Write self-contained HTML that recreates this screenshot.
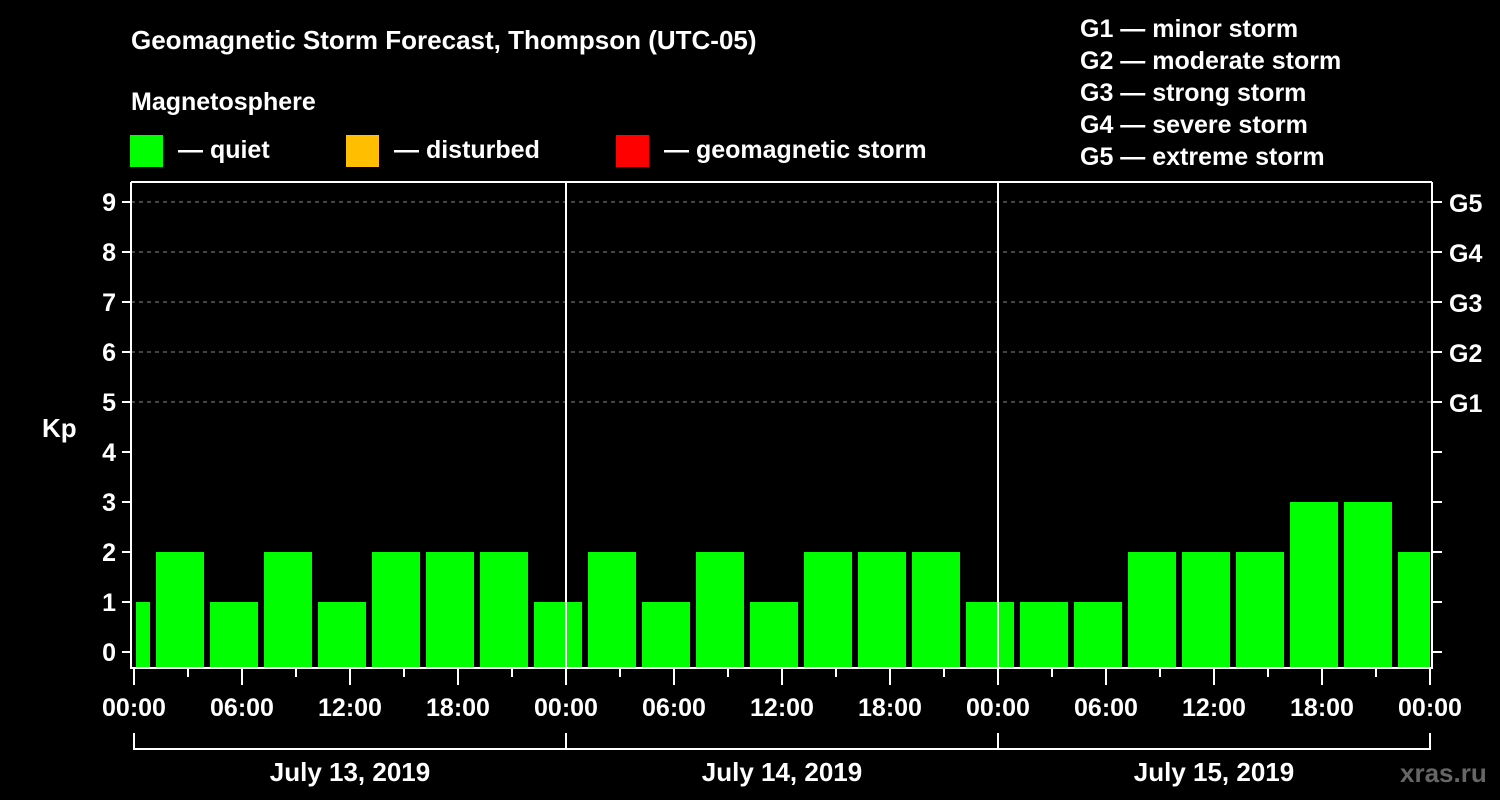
<!DOCTYPE html>
<html><head><meta charset="utf-8"><style>
html,body{margin:0;padding:0;background:#000;width:1500px;height:800px;overflow:hidden}
text{font-family:"Liberation Sans",sans-serif;font-weight:bold;fill:#fff}
</style></head><body>
<svg id="chart" width="1500" height="800" xmlns="http://www.w3.org/2000/svg">
<rect width="1500" height="800" fill="#000"/>
<text x="131" y="49" font-size="26">Geomagnetic Storm Forecast, Thompson (UTC-05)</text>
<text x="131" y="110" font-size="25">Magnetosphere</text>
<rect x="130" y="135" width="33" height="32" fill="#00ff00"/>
<text x="178" y="158" font-size="25">— quiet</text>
<rect x="346" y="135" width="33" height="32" fill="#ffbf00"/>
<text x="394" y="158" font-size="25">— disturbed</text>
<rect x="616" y="135" width="33" height="32" fill="#ff0000"/>
<text x="664" y="158" font-size="25">— geomagnetic storm</text>
<g font-size="25">
<text x="1080" y="37">G1 — minor storm</text>
<text x="1080" y="69">G2 — moderate storm</text>
<text x="1080" y="101">G3 — strong storm</text>
<text x="1080" y="133">G4 — severe storm</text>
<text x="1080" y="165">G5 — extreme storm</text>
</g>
<text x="42" y="437" font-size="26">Kp</text>
<text x="1400" y="782" font-size="26" style="fill:#666">xras.ru</text>
<g id="grid"></g><g id="bars"></g><g id="axes"></g>
</svg>
<script>
const kpValues=[1,2,1,2,1,2,2,2,1,2,1,2,1,2,2,2,1,1,1,2,2,2,3,3,2];
const yTicks=[0,1,2,3,4,5,6,7,8,9];
const gLabels=["","","","","","G1","G2","G3","G4","G5"];
const xTickLabels=["00:00","06:00","12:00","18:00","00:00","06:00","12:00","18:00","00:00","06:00","12:00","18:00","00:00"];
const dayLabels=["July 13, 2019","July 14, 2019","July 15, 2019"];
const NS="http://www.w3.org/2000/svg";
const X0=134,X1=1430,L=131,R=1432,TOP=182,BOT=668;
const hx=h=>X0+(X1-X0)*h/72;
const ky=k=>652-50*k;
function mk(tag,at,parent){const e=document.createElementNS(NS,tag);for(const k in at)e.setAttribute(k,at[k]);parent.appendChild(e);return e;}
const grid=document.getElementById('grid'),bars=document.getElementById('bars'),axes=document.getElementById('axes');
yTicks.forEach((k,i)=>{
 if(k>=5){const g=mk('line',{x1:L,x2:R,y1:ky(k),y2:ky(k),stroke:'#888','stroke-dasharray':'4,4','stroke-width':1},grid);
 
 }
 const t1=mk('line',{x1:122,x2:L,y1:ky(k),y2:ky(k),stroke:'#fff','stroke-width':2},axes);
 
 
 const t2=mk('line',{x1:R,x2:1442,y1:ky(k),y2:ky(k),stroke:'#fff','stroke-width':2},axes);
 
 
 const lb=mk('text',{x:116,y:ky(k)+9,'font-size':25,'text-anchor':'end'},axes);lb.textContent=k;
 
 
 if(gLabels[i]){const gl=mk('text',{x:1449,y:ky(k)+10,'font-size':25},axes);gl.textContent=gLabels[i];
 
 }
});
kpValues.forEach((v,i)=>{
 const c=hx(i*3)-8;let a=Math.max(c-24,X0+2),b=Math.min(c+24,X1);
 const r=mk('rect',{x:a,y:ky(v),width:b-a,height:BOT-ky(v),fill:'#00ff00'},bars);
 
 
});
[[L,TOP,R,TOP],[L,TOP,L,BOT+1],[R,TOP,R,BOT+1],[L,BOT,R,BOT],[hx(24),TOP,hx(24),BOT],[hx(48),TOP,hx(48),BOT]].forEach(p=>{
 const l=mk('line',{x1:p[0],y1:p[1],x2:p[2],y2:p[3],stroke:'#fff','stroke-width':2},axes);
 
 
});
for(let h=0;h<=72;h+=3){
 const major=h%6===0;
 const t=mk('line',{x1:hx(h),x2:hx(h),y1:BOT,y2:major?685:677,stroke:'#fff','stroke-width':2},axes);
 
 
}
xTickLabels.forEach((s,i)=>{
 const t=mk('text',{x:hx(i*6),y:716,'font-size':25,'text-anchor':'middle'},axes);t.textContent=s;
 
 
});
mk('line',{x1:X0,x2:X1,y1:749,y2:749,stroke:'#fff','stroke-width':2},axes);
[0,24,48,72].forEach(h=>{
 const t=mk('line',{x1:hx(h),x2:hx(h),y1:733,y2:750,stroke:'#fff','stroke-width':2},axes);
 
 
});
dayLabels.forEach((s,i)=>{
 const t=mk('text',{x:hx(i*24+12),y:781,'font-size':26,'text-anchor':'middle'},axes);t.textContent=s;
 
 
});
</script>
</body></html>
